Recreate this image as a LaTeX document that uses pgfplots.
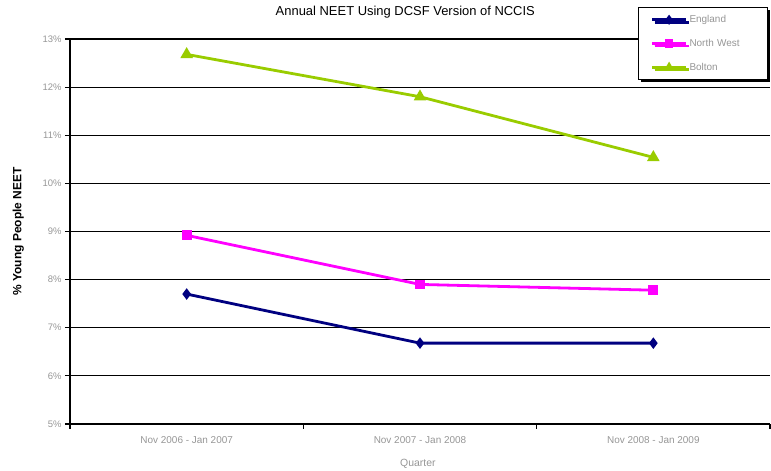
\documentclass[border=0pt]{standalone}
\usepackage{pgfplots}
\pgfplotsset{compat=1.18}
\usepackage{fontspec}
\setmainfont{Liberation Sans}
\usetikzlibrary{shadows}
\definecolor{england}{RGB}{0,0,128}
\definecolor{northwest}{RGB}{255,0,255}
\definecolor{bolton}{RGB}{153,204,0}
\definecolor{ticktext}{RGB}{150,150,150}
\begin{document}
\begin{tikzpicture}
\begin{axis}[
    scale only axis,
    width=700bp, height=385bp,
    xmin=0, xmax=3, ymin=5, ymax=13,
    axis lines=left,
    axis line style={line width=1.2bp, -},
    xtick={0,1,2,3}, xticklabels={},
    extra x ticks={0.5,1.5,2.5},
    extra x tick labels={Nov 2006 - Jan 2007, Nov 2007 - Jan 2008, Nov 2008 - Jan 2009},
    extra x tick style={major tick length=0pt, grid=none},
    ytick={5,...,13},
    yticklabel={\pgfmathprintnumber{\tick}\%},
    /pgf/number format/assume math mode=true,
    tick style={black, line width=1.2bp},
    major tick length=5bp,
    tick align=outside,
    ymajorgrids,
    y grid style={black, line width=1.2bp},
    ticklabel style={font=\fontsize{9.5}{11}\selectfont, text=ticktext},
    xticklabel style={font=\fontsize{10}{11}\selectfont, yshift=-9bp},
    xlabel={Quarter},
    xlabel style={font=\fontsize{10.5}{12}\selectfont, text=ticktext,
        at={(axis description cs:0.497,0)}, anchor=center, yshift=-40bp},
    ylabel={\textbf{\% Young People NEET}},
    ylabel style={font=\fontsize{12}{13}\selectfont,
        at={(axis description cs:-0.074,0.5)}, anchor=center},
    title={Annual NEET Using DCSF Version of NCCIS},
    title style={font=\fontsize{13}{14}\selectfont, at={(axis description cs:0.479,1)},
        anchor=center, yshift=21bp},
    legend style={at={(0.997,1.083)}, anchor=north east, draw=black, line width=0.8bp,
        fill=white, drop shadow={shadow xshift=2.5bp, shadow yshift=-2.5bp, fill=black, opacity=1},
        font=\fontsize{10}{11}\selectfont, text=ticktext, row sep=11bp,
        inner xsep=12bp, inner ysep=6bp, text width=64bp},
    legend cell align=left,
    legend image code/.code={
        \draw[#1, mark repeat=2, mark phase=2, mark size=2.8bp] plot coordinates {(0bp,0bp) (17bp,0bp) (34bp,0bp)};},
]
\addplot[england, line width=2.8bp, mark=diamond*, mark size=3.5bp, mark options={solid}]
    coordinates {(0.5,7.7) (1.5,6.68) (2.5,6.68)};
\addlegendentry{England}
\addplot[northwest, line width=2.8bp, mark=square*, mark size=3.5bp]
    coordinates {(0.5,8.92) (1.5,7.9) (2.5,7.78)};
\addlegendentry{North West}
\addplot[bolton, line width=2.8bp, mark=triangle*, mark size=4.5bp]
    coordinates {(0.5,12.68) (1.5,11.8) (2.5,10.54)};
\addlegendentry{Bolton}
\coordinate (sw) at (rel axis cs:0,0);
\coordinate (ne) at (rel axis cs:1,1);
\end{axis}
\pgfresetboundingbox
\path ([shift={(-70bp,-47bp)}]sw) rectangle ([shift={(1bp,39bp)}]ne);
\end{tikzpicture}
\end{document}
